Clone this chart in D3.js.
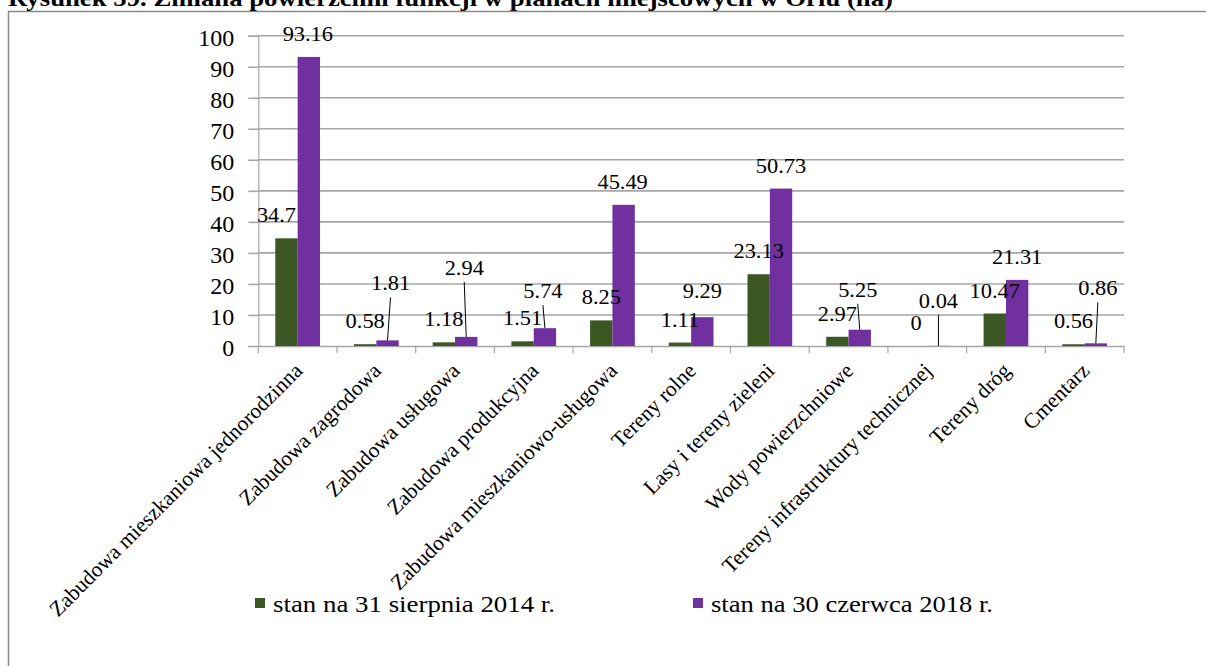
<!DOCTYPE html>
<html><head><meta charset="utf-8">
<script src="https://cdn.jsdelivr.net/npm/d3@7"></script>
<style>
body{margin:0;background:#fff}
svg{display:block}
text{font-family:"Liberation Serif","Times New Roman",Times,serif;fill:#000}
</style>
</head><body>
<svg id="chart" width="1206" height="666"></svg>
<script>
// ---------- data ----------
const titleText = "Rysunek 59. Zmiana powierzchni funkcji w planach miejscowych w Orlu (ha)";
const categories = [
  "Zabudowa mieszkaniowa jednorodzinna",
  "Zabudowa zagrodowa",
  "Zabudowa usługowa",
  "Zabudowa produkcyjna",
  "Zabudowa mieszkaniowo-usługowa",
  "Tereny rolne",
  "Lasy i tereny zieleni",
  "Wody powierzchniowe",
  "Tereny infrastruktury technicznej",
  "Tereny dróg",
  "Cmentarz"
];
const seriesNames = ["stan na 31 sierpnia 2014 r.", "stan na 30 czerwca 2018 r."];
const values2014 = [34.7, 0.58, 1.18, 1.51, 8.25, 1.11, 23.13, 2.97, 0, 10.47, 0.56];
const values2018 = [93.16, 1.81, 2.94, 5.74, 45.49, 9.29, 50.73, 5.25, 0.04, 21.31, 0.86];
const yTickValues = [0, 10, 20, 30, 40, 50, 60, 70, 80, 90, 100];

// ---------- layout (label nudges, px) ----------
const shift2014 = [-10, 0, 0, 0, 0, 0, 0, 0, 0, 0, 0];
const shift2018 = [-1, 3, -2, -2, -1, 0, 0, -2, 0, 0, 2];
const lift2018  = [0, 34, 46, 14, 0, 3, 0, 17, 22, 0, 32];
const colors = ["#3b5724", "#7030a0"];
const serif = "'Liberation Serif','Times New Roman',Times,serif";

const svg = d3.select("#chart");
const plot = {left: 258.3, right: 1124, top: 35.7, bottom: 346};

const x = d3.scaleBand().domain(categories).range([plot.left, plot.right]).padding(0);
const xs = d3.scaleBand().domain([0, 1]).range([0, x.bandwidth()]).paddingInner(0).paddingOuter(0.76);
const y = d3.scaleLinear().domain([0, 100]).range([plot.bottom, plot.top]);

// frame
svg.append("path").attr("d", "M8.5,666 L8.5,11.5 L1206,11.5")
  .attr("fill", "none").attr("stroke", "#8a8a8a").attr("stroke-width", 1.5);

// title (partially cut off at the top, as in the source)
svg.append("text").attr("x", 8).attr("y", 6)
  .style("font-family", serif)
  .attr("font-size", 23).attr("font-weight", "bold")
  .attr("textLength", 885).attr("lengthAdjust", "spacingAndGlyphs")
  .text(titleText);

// gridlines + y axis
const yAxis = d3.axisLeft(y).tickValues(yTickValues).tickSize(10).tickPadding(14).tickFormat(d3.format("d"));
const gy = svg.append("g").attr("transform", `translate(${plot.left},0)`).call(yAxis)
  .attr("font-family", null);
gy.select(".domain").attr("stroke", "#a6a6a6").attr("stroke-width", 1.2);
gy.selectAll(".tick line").attr("stroke", "#a6a6a6").attr("stroke-width", 1.6);
gy.selectAll(".tick text").style("font-family", serif).attr("font-size", 24)
  .attr("fill", "#000").attr("dy", "0.40em");
svg.append("g").selectAll("line").data(yTickValues.filter(d => d > 0)).join("line")
  .attr("x1", plot.left).attr("x2", plot.right)
  .attr("y1", d => y(d)).attr("y2", d => y(d))
  .attr("stroke", "#a6a6a6").attr("stroke-width", 1.6);

// x axis
const xAxis = d3.axisBottom(x).tickSize(0).tickFormat("");
const gx = svg.append("g").attr("transform", `translate(0,${plot.bottom})`).call(xAxis);
gx.select(".domain").attr("stroke", "#a6a6a6").attr("stroke-width", 1.6);
gx.selectAll(".tick").remove();
const bounds = categories.map(c => x(c)).concat([plot.right]);
svg.append("g").selectAll("line").data(bounds).join("line")
  .attr("x1", d => d).attr("x2", d => d)
  .attr("y1", plot.bottom).attr("y2", plot.bottom + 7)
  .attr("stroke", "#a6a6a6").attr("stroke-width", 1.2);

// bars
const series = [values2014, values2018];
series.forEach((vals, s) => {
  svg.append("g").selectAll("rect").data(vals).join("rect")
    .attr("x", (d, i) => x(categories[i]) + xs(s))
    .attr("width", xs.bandwidth())
    .attr("y", d => y(d))
    .attr("height", d => y(0) - y(d))
    .attr("fill", colors[s]);
});

// data labels
const labelSize = 20;
const gl = svg.append("g");
values2014.forEach((v, i) => {
  const cx = x(categories[i]) + xs(0) + xs.bandwidth() / 2 + shift2014[i];
  const by = y(v) - 16;
  gl.append("text").attr("transform", `translate(${cx},${by}) scale(1.12,1)`)
    .style("font-family", serif)
    .attr("text-anchor", "middle").attr("font-size", labelSize).text(String(v));
});
values2018.forEach((v, i) => {
  const bx = x(categories[i]) + xs(1) + xs.bandwidth() / 2;
  const cx = bx + shift2018[i];
  const by = y(v) - 16 - lift2018[i];
  if (lift2018[i] > 10) {
    gl.append("line").attr("x1", cx).attr("y1", by + 7).attr("x2", bx).attr("y2", y(v))
      .attr("stroke", "#000").attr("stroke-width", 1);
  }
  gl.append("text").attr("transform", `translate(${cx},${by}) scale(1.12,1)`)
    .style("font-family", serif)
    .attr("text-anchor", "middle").attr("font-size", labelSize).text(String(v));
});

// category labels
svg.append("g").selectAll("text").data(categories).join("text")
  .attr("transform", d => `translate(${x(d) + x.bandwidth() / 2 + 6},${plot.bottom + 26}) rotate(-45)`)
  .style("font-family", serif)
  .attr("text-anchor", "end").attr("font-size", 21.5).text(d => d);

// legend
const legendX = [255, 693];
seriesNames.forEach((name, s) => {
  svg.append("rect").attr("x", legendX[s]).attr("y", 598).attr("width", 10).attr("height", 10).attr("fill", colors[s]);
  svg.append("text").attr("x", legendX[s] + 18).attr("y", 612)
    .style("font-family", serif)
    .attr("font-size", 24).attr("textLength", 282).attr("lengthAdjust", "spacingAndGlyphs")
    .text(name);
});
</script>
</body></html>
